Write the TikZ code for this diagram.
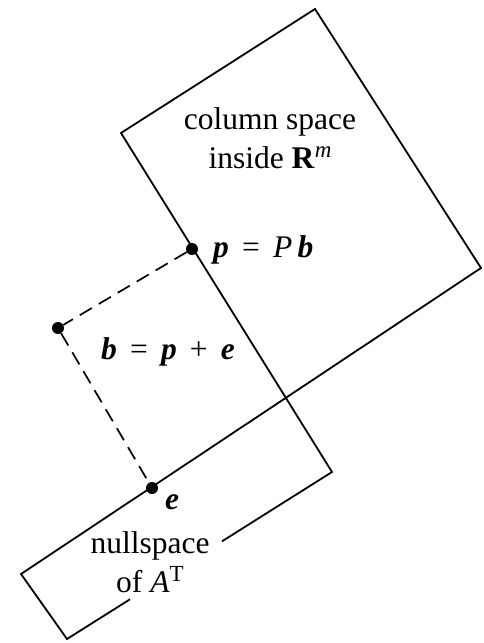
\documentclass[tikz,border=0pt]{standalone}
\usepackage{fontspec}
\setmainfont{Liberation Serif}
\newcommand\sgap{\hspace{0.42em}}
\newcommand\bi[1]{\textbf{\textit{#1}}}
\newcommand\supr[1]{\raisebox{0.75ex}{\fontsize{23}{23}\selectfont #1}}
\begin{document}
\begin{tikzpicture}[x=1pt,y=-1pt,
  edge/.style={line width=1.8pt, line join=miter},
  dot/.style={circle, fill=black, inner sep=0pt, minimum size=12pt},
  dashline/.style={line width=1.7pt, dash pattern=on 14pt off 8pt},
  lbl/.style={font=\fontsize{31.5}{39}\selectfont, inner sep=1pt, align=center}]
\useasboundingbox (0,0) rectangle (483,643);
% corners
\coordinate (colA) at (121,133);
\coordinate (colB) at (315,9);
\coordinate (colC) at (481,268);
\coordinate (nulA) at (21,574);
\coordinate (nulD) at (67,639);
\coordinate (nulB) at (332,472);
% gap in the lower edge of the nullspace rectangle, for its label
\path (nulD) -- (nulB) coordinate[pos=0.238] (gapS) coordinate[pos=0.585] (gapE);
% the two rectangles (sharing the crossing point)
\draw[edge] (gapE) -- (nulB) -- (colA) -- (colB) -- (colC) -- (nulA) -- (nulD) -- (gapS);
% points
\node[dot] (pdot) at (192,249) {};
\node[dot] (bdot) at (58,328) {};
\node[dot] (edot) at (152,488) {};
\draw[dashline] (pdot) -- (bdot) -- (edot);
% labels
\node[lbl] (colLabel) at (270,138) {column space\\inside \textbf{R}\supr{\textit{m}}};
\node[lbl, anchor=west] (pLabel) at (212,250) {\bi{p}\sgap=\sgap\textit{P}\,\bi{b}};
\node[lbl] (bLabel) at (168,352) {\bi{b}\sgap=\sgap\bi{p}\sgap+\sgap\bi{e}};
\node[lbl] (eLabel) at (172,502) {\bi{e}};
\node[lbl] (nulLabel) at (150,562) {nullspace\\of \textit{A}\supr{T}};
\end{tikzpicture}
\end{document}
